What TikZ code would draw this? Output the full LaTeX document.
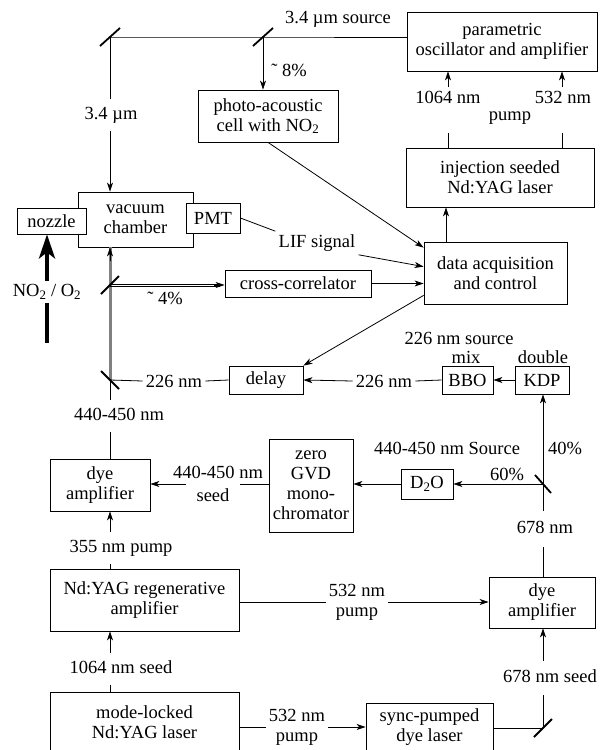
\documentclass[tikz,border=0pt]{standalone}
\usepackage{fontspec}
\setmainfont{Liberation Serif}
\usetikzlibrary{arrows.meta,calc}
\begin{document}
\begin{tikzpicture}[x=1pt,y=-1pt,line width=0.8pt,
  font=\rmfamily\fontsize{18.5}{20}\selectfont,
  >={Stealth[length=9pt,width=6pt,inset=2.5pt]},
  box/.style={draw, fill=white, align=center, inner sep=0pt},
  lab/.style={inner sep=3pt, align=center},
  vlab/.style={inner xsep=3pt, inner ysep=7pt, text height=13pt, text depth=4pt},
  mir/.style={line width=1.8pt},
  beam/.style={draw=gray, line width=3pt},
  thin/.style={line width=0.6pt},
]
\useasboundingbox (0,0) rectangle (600,750);

% boxes
\node[box, minimum width=190pt, minimum height=59pt] (par) at (502,41.5) {parametric\\oscillator and amplifier};
\node[box, minimum width=188pt, minimum height=59pt] (inj) at (500,177.5) {injection seeded\\Nd:YAG laser};
\node[box, minimum width=140pt, minimum height=52pt] (pa) at (268,116) {photo-acoustic\\cell with NO\textsubscript{2}};
\node[box, minimum width=115pt, minimum height=55pt] (vac) at (135.5,219.5) {vacuum\\chamber};
\node[box, minimum width=69pt, minimum height=26pt] (noz) at (51.5,221) {nozzle};
\node[box, minimum width=54pt, minimum height=30pt] (pmt) at (213,218) {PMT};
\node[box, minimum width=143pt, minimum height=62pt] (daq) at (495.5,273) {data acquisition\\and control};
\node[box, minimum width=146pt, minimum height=27pt] (cc) at (298,283.5) {cross-correlator};
\node[box, minimum width=74pt, minimum height=28pt] (delay) at (266,380) {delay};
\node[box, minimum width=51pt, minimum height=28pt] (bbo) at (467.5,380) {BBO};
\node[box, minimum width=54pt, minimum height=28pt] (kdp) at (542,380) {KDP};
\node[box, minimum width=84pt, minimum height=93pt] (gvd) at (311,485.5) {zero\\GVD\\mono-\\chromator};
\node[box, minimum width=52pt, minimum height=30pt] (d2o) at (427,484) {D\textsubscript{2}O};
\node[box, minimum width=100pt, minimum height=52pt] (dyeL) at (100,485) {dye\\amplifier};
\node[box, minimum width=189pt, minimum height=62pt] (regen) at (144.5,600) {Nd:YAG regenerative\\amplifier};
\node[box, minimum width=106pt, minimum height=51pt] (dyeR) at (542,602.5) {dye\\amplifier};
\node[box, minimum width=189pt, minimum height=60pt] (mode) at (144.5,722) {mode-locked\\Nd:YAG laser};
\node[box, minimum width=127pt, minimum height=49pt] (sync) at (429.5,727.5) {sync-pumped\\dye laser};

% mirror positions
\coordinate (m1) at (110,37);
\coordinate (m2) at (263,37);
\coordinate (m3) at (110,285);
\coordinate (m4) at (110,380);
\coordinate (m5) at (543,484);
\coordinate (m6) at (543,728);

% top IR path
\node[lab] (lsrc) at (338,19) {3.4 µm source};
\draw (m1) -- (m2) -- (m2 -| par.west);
\draw[->] (m2) -- (m2 |- pa.north);
\node[lab] (l8) at (289,70) {˜ 8\%};
\node[vlab] (l34) at (111,115) {3.4 µm};
\draw (m1) -- (m1 |- l34.north);
\draw[->] (m1 |- l34.south) -- (m1 |- vac.north);

% pump to OPO
\coordinate (xa) at (448,0);
\coordinate (xb) at (562,0);
\coordinate (xc) at (446,0);
\node[lab] (l1064) at (448,97) {1064 nm};
\node[lab] (l532t) at (563,97) {532 nm};
\node[lab] (lpump) at (510,118) {pump};
\coordinate (ia) at (448,133);
\coordinate (ib) at (562,133);
\draw[->] (xa |- l1064.north) -- (xa |- par.south);
\draw[->] (xb |- l532t.north) -- (xb |- par.south);
\draw (inj.north -| xa) -- (ia);
\draw (inj.north -| xb) -- (ib);
\draw[->] (daq.north -| xc) -- (inj.south -| xc);

% signals to DAQ
\draw[->] (pa.south) -- ($(daq.north west)+(0,6)$);
\node[lab] (lif) at (317,243) {LIF signal};
\draw (pmt.east) -- (lif.north west);
\draw[->] (lif.south east) -- ($(daq.north west)+(0,25)$);
\draw[->] (cc.east) -- (cc.east -| daq.west);
\draw[->] ($(daq.south west)+(0,-9)$) -- (delay.north east);

% UV/blue beam into chamber
\path[beam] (m4) -- (m4 |- vac.south);
\draw[->] ($(m4 |- vac.south)+(0,14)$) -- (m4 |- vac.south);
\coordinate (ccin) at ($(m3 -| cc.west)+(-5,0)$);
\draw[thin] ($(m3)+(0,-1.2)$) -- ($(ccin)+(0,-1.2)$);
\draw[thin] ($(m3)+(0,1.2)$) -- ($(ccin)+(0,1.2)$);
\draw[->] ($(ccin)+(-6,0)$) -- (m3 -| cc.west);
\node[lab] (l4) at (165,298) {˜ 4\%};

% 226 nm row
\node[lab] (l226a) at (174,381) {226 nm};
\node[lab] (l226b) at (384,381) {226 nm};
\draw (delay.west) -- (l226a.east);
\draw (l226a.west) -- (m4);
\draw (bbo.west) -- (l226b.east);
\draw[->] (l226b.west) -- (delay.east);
\draw[->] (kdp.west) -- (bbo.east);
\node[lab] (l226s) at (459,338) {226 nm source};
\node[lab] (lmix) at (466,357) {mix};
\node[lab] (ldbl) at (543,357) {double};

% left column
\node[vlab] (l440) at (119,416) {440-450 nm};
\draw (m4) -- (m4 |- l440.north);
\draw (m4 |- l440.south) -- (m4 |- dyeL.north);

% right column
\draw[->] (m5) -- (m5 |- kdp.south);
\node[lab] (l440s) at (447,448) {440-450 nm Source};
\node[lab] (l40) at (565,448) {40\%};
\node[lab] (l60) at (507,474) {60\%};
\draw[->] (m5) -- (m5 -| d2o.east);
\draw[->] (d2o.west) -- (d2o.west -| gvd.east);
\node[lab] (l440b) at (218,472) {440-450 nm};
\node[inner xsep=10pt, inner ysep=2pt] (lseed) at (213,495) {seed};
\draw (gvd.west |- d2o.west) -- (lseed.east |- d2o.west);
\draw[->] (lseed.west |- d2o.west) -- (dyeL.east |- d2o.west);
\node[vlab, inner ysep=9pt] (l678) at (545,529) {678 nm};
\draw (m5) -- (m5 |- l678.north);
\draw (m5 |- l678.south) -- (m5 |- dyeR.north);

% lower left
\node[vlab] (l355) at (121,548) {355 nm pump};
\draw[->] (m4 |- l355.north) -- (m4 |- dyeL.south);
\draw (m4 |- regen.north) -- (m4 |- l355.south);
\node[vlab] (l1064s) at (121,669) {1064 nm seed};
\draw[->] (m4 |- l1064s.north) -- (m4 |- regen.south);
\draw (m4 |- mode.north) -- (m4 |- l1064s.south);

% regen to right dye amp
\node[lab] (l532m) at (357,602) {532 nm\\pump};
\draw (regen.east |- l532m) -- (l532m.west);
\draw[->] (l532m.east) -- (l532m.east -| dyeR.west);

% seed into right dye amp
\node[vlab, inner ysep=8pt] (l678s) at (550,678) {678 nm seed};
\draw[->] (m6 |- l678s.north) -- (m6 |- dyeR.south);
\draw (m6) -- (m6 |- l678s.south);

% bottom
\node[lab] (l532b) at (297,727) {532 nm\\pump};
\draw (mode.east |- l532b) -- (l532b.west);
\draw[->] (l532b.east) -- (l532b.east -| sync.west);
\draw (sync.east |- m6) -- (m6);

% gas inlet
\node[lab] (lno) at (47,292) {NO\textsubscript{2} / O\textsubscript{2}};
\coordinate (nob) at (47,343);
\draw[line width=4pt, -{Stealth[length=24pt,width=16pt,inset=6pt]}] (lno.north) -- (lno.north |- noz.south);
\draw[line width=4pt] (lno.south) -- (nob);

% mirrors
\draw[mir] ($(m1)+(-10,9)$) -- ($(m1)+(10,-9)$);
\draw[mir] ($(m2)+(-10,9)$) -- ($(m2)+(10,-9)$);
\draw[mir] ($(m3)+(-9,9)$) -- ($(m3)+(9,-9)$);
\draw[mir] ($(m4)+(-9,-9)$) -- ($(m4)+(9,9)$);
\draw[mir] ($(m5)+(-8,-9)$) -- ($(m5)+(8,9)$);
\draw[mir] ($(m6)+(-9,9)$) -- ($(m6)+(9,-9)$);
\end{tikzpicture}
\end{document}
